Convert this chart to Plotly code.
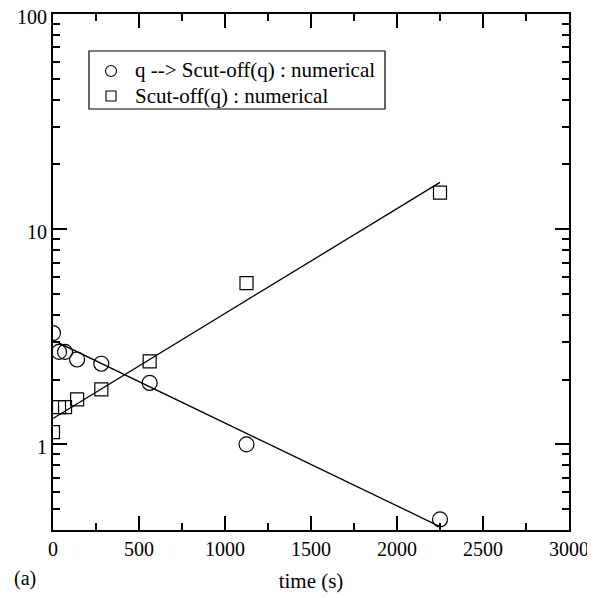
import plotly.graph_objects as go
import numpy as np

# data
t_q = [0, 35, 70, 140, 281, 562, 1125, 2250]
q_vals = [3.29, 2.69, 2.69, 2.48, 2.37, 1.93, 1.0, 0.448]
t_s = [0, 35, 70, 140, 281, 562, 1125, 2250]
s_vals = [1.14, 1.49, 1.49, 1.62, 1.80, 2.43, 5.61, 14.8]
fit_t = [0, 2250]
fit_q = [3.05, 0.415]
fit_s = [1.32, 16.5]

x_ticks = [0, 500, 1000, 1500, 2000, 2500, 3000]
y_ticks = [1, 10, 100]
legend_labels = ["q --> Scut-off(q) : numerical", "Scut-off(q) : numerical"]

FONT = "Liberation Serif"

# page has an 8px body margin; figure is sized so plot area lands at x 53..569, y 14..530
W, H = 587, 590
L, R, T, B = 45, 26, 6, 68
PW, PH = W - L - R, H - T - B


def px(x):  # screen px -> paper x
    return (x - 53) / PW


def py(y):  # screen px -> paper y
    return (530 - y) / PH


fig = go.Figure()
fig.add_trace(go.Scatter(x=fit_t, y=fit_q, mode="lines",
                         line=dict(color="black", width=1.3), showlegend=False, hoverinfo="skip"))
fig.add_trace(go.Scatter(x=fit_t, y=fit_s, mode="lines",
                         line=dict(color="black", width=1.3), showlegend=False, hoverinfo="skip"))
fig.add_trace(go.Scatter(x=t_q, y=q_vals, mode="markers", name=legend_labels[0], showlegend=False,
                         marker=dict(symbol="circle-open", size=15, color="black", line=dict(width=1.2))))
fig.add_trace(go.Scatter(x=t_s, y=s_vals, mode="markers", name=legend_labels[1], showlegend=False,
                         marker=dict(symbol="square-open", size=13, color="black", line=dict(width=1.2))))

minor_y = [v * m for v, m in [(0.1, k) for k in range(4, 10)] + [(1, k) for k in range(2, 10)] + [(10, k) for k in range(2, 10)]]

fig.update_xaxes(range=[0, 3000], tickvals=x_ticks, ticktext=[str(v) for v in x_ticks],
                 ticks="inside", ticklen=14, tickwidth=1.5, tickcolor="black",
                 showline=True, linecolor="black", linewidth=2, mirror="ticks",
                 showgrid=False, zeroline=False, automargin=False, ticklabeloverflow="allow",
                 minor=dict(tickvals=list(range(250, 3000, 500)), ticks="inside", ticklen=7,
                            tickwidth=1.5, tickcolor="black", showgrid=False),
                 title=dict(text="time (s)", font=dict(family=FONT, size=21, color="black"), standoff=14),
                 tickfont=dict(family=FONT, size=20, color="black"))
fig.update_yaxes(type="log", range=[np.log10(0.4), 2], tickvals=y_ticks, ticktext=[str(v) for v in y_ticks],
                 ticks="inside", ticklen=14, tickwidth=1.5, tickcolor="black",
                 showline=True, linecolor="black", linewidth=2, mirror="ticks",
                 showgrid=False, zeroline=False, automargin=False, ticklabeloverflow="allow",
                 ticklabelshift=3,
                 minor=dict(tickvals=minor_y, ticks="inside", ticklen=7,
                            tickwidth=1.5, tickcolor="black", showgrid=False),
                 tickfont=dict(family=FONT, size=20, color="black"))

# legend box drawn by hand (tighter row spacing than plotly's legend allows)
fig.add_shape(type="rect", xref="paper", yref="paper", x0=px(89), x1=px(385), y0=py(109), y1=py(51),
              line=dict(color="black", width=1.2), fillcolor="white", layer="above")
fig.add_shape(type="circle", xref="paper", yref="paper", x0=px(105.5), x1=px(116.5), y0=py(76.5), y1=py(65.5),
              line=dict(color="black", width=1.1), layer="above")
fig.add_shape(type="rect", xref="paper", yref="paper", x0=px(106), x1=px(116), y0=py(101), y1=py(91),
              line=dict(color="black", width=1.1), layer="above")
for lab, yc in zip(legend_labels, [70, 96]):
    fig.add_annotation(text=lab, xref="paper", yref="paper", x=px(133), y=py(yc),
                       xanchor="left", yanchor="middle", showarrow=False,
                       font=dict(family=FONT, size=21, color="black"))

fig.add_annotation(text="(a)", xref="paper", yref="paper", x=px(12), y=py(578),
                   xanchor="left", yanchor="middle", showarrow=False,
                   font=dict(family=FONT, size=20, color="black"))

fig.update_layout(width=W, height=H, margin=dict(l=L, r=R, t=T, b=B, autoexpand=False),
                  paper_bgcolor="white", plot_bgcolor="white", showlegend=False,
                  font=dict(family=FONT, color="black"))

fig.write_html("out.html")
